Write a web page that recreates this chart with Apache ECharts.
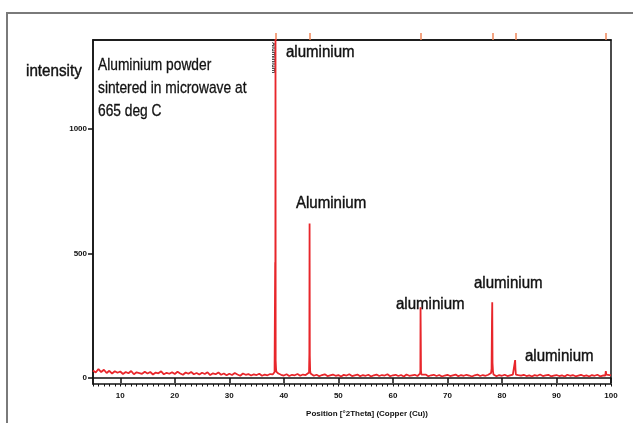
<!DOCTYPE html>
<html>
<head>
<meta charset="utf-8">
<script src="https://cdn.jsdelivr.net/npm/echarts@6/dist/echarts.min.js"></script>
<style>
html, body { margin: 0; padding: 0; background: #fff; }
#main { width: 633px; height: 423px; }
</style>
</head>
<body>
<div id="main"></div>
<script>
// scan: start 5 deg, step 0.5 deg, background counts
var scanStart = 5;
var scanStep = 0.5;
var backgroundCounts = [
    30, 22, 36, 24, 33, 20, 29, 18, 27, 21,
    26, 16, 24, 19, 28, 15, 23, 20, 17, 25,
    18, 24, 14, 22, 19, 27, 15, 21, 17, 23,
    16, 25, 18, 13, 22, 17, 24, 15, 20, 14,
    21, 16, 23, 12, 19, 15, 22, 13, 18, 11,
    17, 12, 20, 14, 9, 18, 13, 16, 10, 15,
    12, 17, 9, 14, 11, 16, 15, 20, 18, 13,
    10, 15, 8, 13, 11, 16, 9, 14, 12, 17,
    14, 9, 13, 7, 12, 15, 8, 11, 14, 9,
    12, 6, 13, 10, 15, 8, 11, 14, 7, 12,
    9, 13, 6, 11, 14, 8, 12, 10, 15, 7,
    11, 13, 8, 12, 6, 14, 9, 11, 13, 8,
    12, 9, 14, 7, 11, 13, 8, 12, 6, 10,
    13, 8, 11, 14, 7, 12, 9, 13, 10, 6,
    11, 14, 8, 12, 9, 13, 10, 15, 7, 12,
    9, 13, 8, 11, 14, 7, 12, 10, 13, 8,
    11, 6, 12, 9, 14, 8, 11, 13, 7, 10,
    12, 8, 11, 6, 13, 9, 12, 7, 10, 13,
    8, 11, 6, 12, 9, 13, 7, 10, 12, 9,
    11
];

// peak profiles (2theta, counts)
var peakAngles = [
    38.30, 38.38, 38.41, 38.44, 38.47, 38.50, 38.56, 38.62,
    44.62, 44.68, 44.72, 44.76, 44.82, 44.90,
    64.98, 65.04, 65.07, 65.11, 65.15, 65.22,
    78.00, 78.10, 78.17, 78.22, 78.27, 78.35, 78.45,
    82.35, 82.42, 82.47, 82.55,
    98.95, 99.05, 99.15
];
var peakCounts = [
    24, 30, 464, 60, 1400, 70, 40, 26,
    22, 96, 620, 90, 30, 18,
    18, 30, 284, 168, 30, 14,
    20, 38, 224, 304, 60, 28, 14,
    14, 72, 40, 14,
    10, 28, 14
];

// reference pattern marks at the top axis
var refAngles = [38.47, 44.74, 65.13, 78.23, 82.44, 99.08];

var xTicks = [10, 20, 30, 40, 50, 60, 70, 80, 90, 100];
var yTicks = [0, 500, 1000];

var labels = [
    { text: "aluminium", x: 286, y: 53 },
    { text: "Aluminium", x: 296, y: 204 },
    { text: "aluminium", x: 396, y: 305 },
    { text: "aluminium", x: 474, y: 284 },
    { text: "aluminium", x: 525, y: 357 }
];

var pattern = [];
for (var i = 0; i < backgroundCounts.length; i++) {
    var a = scanStart + i * scanStep;
    var near = peakAngles.some(function (p) { return Math.abs(p - a) < 0.25; });
    if (!near) pattern.push([a, backgroundCounts[i]]);
}
for (var j = 0; j < peakAngles.length; j++) {
    pattern.push([peakAngles[j], peakCounts[j]]);
}
pattern.sort(function (p, q) { return p[0] - q[0]; });

var graphics = [
    {
        type: "polyline",
        shape: { points: [[7, 423], [7, 13], [633, 13]] },
        style: { stroke: "#7a7a7a", lineWidth: 2, fill: null }
    },
    {
        type: "text", x: 26, y: 72, scaleX: 0.95,
        style: {
            text: "intensity", font: '16px "Liberation Sans", Arial, sans-serif',
            fill: "#111", stroke: "#111", lineWidth: 0.4, verticalAlign: "middle"
        }
    },
    {
        type: "text", x: 98, y: 54, scaleX: 0.81,
        style: {
            text: "Aluminium powder\nsintered in microwave at\n665 deg C",
            font: '17px "Liberation Sans", Arial, sans-serif',
            lineHeight: 23, fill: "#111", stroke: "#111", lineWidth: 0.3, verticalAlign: "top"
        }
    },
    {
        type: "text", x: 274, y: 42, rotation: -Math.PI / 2,
        style: { text: "Aluminium", font: 'bold 6px "Liberation Sans", Arial, sans-serif', fill: "#111", verticalAlign: "middle" }
    }
];
labels.forEach(function (l) {
    graphics.push({
        type: "text", x: l.x, y: l.y, scaleX: 0.94,
        style: {
            text: l.text, font: '16px "Liberation Sans", Arial, sans-serif',
            fill: "#111", stroke: "#111", lineWidth: 0.4, verticalAlign: "middle"
        }
    });
});

var myChart = echarts.init(document.getElementById("main"));
myChart.setOption({
    animation: false,
    grid: {
        left: 93, top: 40, right: 22, bottom: 38,
        show: true, borderColor: "#111", borderWidth: 1.5, backgroundColor: "#fff"
    },
    xAxis: [
        {
            type: "value", min: 5, max: 100, position: "bottom",
            axisLine: { lineStyle: { color: "#111", width: 1.5 } },
            axisTick: { customValues: xTicks, length: 5, lineStyle: { color: "#111", width: 1.5 } },
            axisLabel: {
                customValues: xTicks, fontSize: 8, fontWeight: "bold", color: "#111", margin: 8,
                fontFamily: "Liberation Sans"
            },
            splitLine: { show: false },
            name: "Position [°2Theta] (Copper (Cu))",
            nameLocation: "middle", nameGap: 26,
            nameTextStyle: { fontSize: 8, fontWeight: "bold", color: "#111", padding: [0, 0, 0, 30], fontFamily: "Liberation Sans" }
        },
        {
            type: "value", min: 5, max: 100, interval: 1, position: "bottom",
            axisLine: { show: false },
            axisTick: { length: 2.5, lineStyle: { color: "#111", width: 1 } },
            axisLabel: { show: false },
            splitLine: { show: false }
        },
        {
            type: "value", min: 5, max: 100, position: "top",
            axisLine: { lineStyle: { color: "#111", width: 1.5 } },
            axisTick: { customValues: refAngles, length: 7, lineStyle: { color: "#f0875a", width: 1.5 } },
            axisLabel: { show: false },
            splitLine: { show: false }
        }
    ],
    yAxis: {
        type: "value", min: -24, max: 1356,
        axisLine: { show: true, lineStyle: { color: "#111", width: 1.5 } },
        axisTick: { show: true, customValues: yTicks, length: 5, lineStyle: { color: "#111", width: 1.5 } },
        axisLabel: {
            customValues: yTicks, fontSize: 8, fontWeight: "bold", color: "#111", margin: 6,
            fontFamily: "Liberation Sans",
            formatter: function (v) { return String(v); }
        },
        splitLine: { show: false }
    },
    series: [
        {
            name: "Aluminium",
            type: "line",
            xAxisIndex: 0,
            data: pattern,
            showSymbol: false,
            clip: true,
            lineStyle: { color: "#e8262b", width: 1.8 }
        }
    ],
    graphic: graphics
});
</script>
</body>
</html>
